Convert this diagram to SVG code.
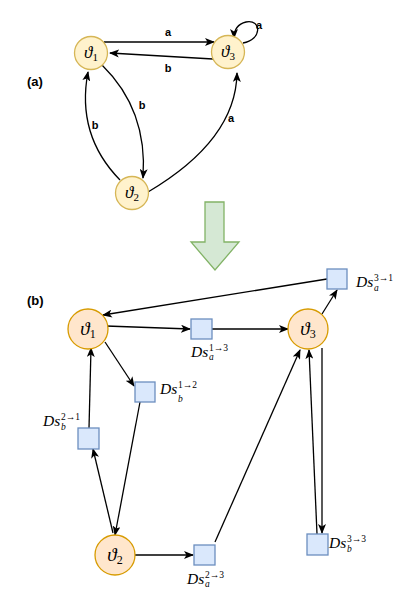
<svg xmlns="http://www.w3.org/2000/svg" width="415" height="615" viewBox="0 0 415 615">
<style>
.ya{fill:#fff2cc;stroke:#d6b656;stroke-width:1.3}
.ob{fill:#ffe6cc;stroke:#d79b00;stroke-width:1.3}
.bx{fill:#dae8fc;stroke:#6c8ebf;stroke-width:1.3}
.e{fill:none;stroke:#000;stroke-width:1.3}
.ea{fill:none;stroke:#000;stroke-width:1.3;marker-end:url(#ar)}
.lb{font-family:"Liberation Sans",Arial,sans-serif;font-weight:bold;font-size:11px;text-anchor:middle}
.pl{font-family:"Liberation Sans",Arial,sans-serif;font-weight:bold;font-size:13px}
.m{font-family:"Liberation Serif","DejaVu Serif",serif;font-style:italic}
.mu{font-family:"Liberation Serif","DejaVu Serif",serif}
.ds{font-family:"Liberation Serif","DejaVu Serif",serif;font-style:italic;font-size:15.5px}
.sp{font-family:"Liberation Serif","DejaVu Serif",serif;font-size:9.5px}
.sb{font-family:"Liberation Serif","DejaVu Serif",serif;font-style:italic;font-size:9.5px}
</style>
<defs>
<marker id="ar" markerUnits="userSpaceOnUse" markerWidth="10" markerHeight="8" refX="9" refY="4" orient="auto">
<path d="M0,0 L10,4 L0,8 L2.5,4 z" fill="#000"/>
</marker>
</defs>
<text class="pl" x="27" y="86">(a)</text>
<text class="pl" x="27" y="305">(b)</text>
<g id="connectors-a">
<path class="ea" d="M104,42 L214,42"/>
<path class="ea" d="M213,59 L110,53"/>
<path class="ea" d="M243,43 C262,40 262,19 246,22 C238,24 234,30 234,38"/>
<path class="ea" d="M102,65 Q148,110 143,178"/>
<path class="ea" d="M120,180 Q76,135 88,72"/>
<path class="ea" d="M148,192 Q236,140 237,73"/>
<text class="lb" x="168" y="36">a</text>
<text class="lb" x="168" y="72">b</text>
<text class="lb" x="142" y="109">b</text>
<text class="lb" x="95" y="129">b</text>
<text class="lb" x="231" y="122">a</text>
<text class="lb" x="259" y="29">a</text>
</g>
<g id="a-v1"><circle class="ya" cx="91" cy="53" r="16.5"/><text x="91" y="58" text-anchor="middle"><tspan class="m" font-size="17">ϑ</tspan><tspan class="mu" font-size="11" dy="3">1</tspan></text></g>
<g id="a-v3"><circle class="ya" cx="228" cy="52" r="16.5"/><text x="228" y="57" text-anchor="middle"><tspan class="m" font-size="17">ϑ</tspan><tspan class="mu" font-size="11" dy="3">3</tspan></text></g>
<g id="a-v2"><circle class="ya" cx="132" cy="193" r="16.5"/><text x="132" y="198" text-anchor="middle"><tspan class="m" font-size="17">ϑ</tspan><tspan class="mu" font-size="11" dy="3">2</tspan></text></g>
<g id="big-arrow"><polygon points="205,202 224,202 224,242 239,242 215,270 191,242 205,242" fill="#d5e8d4" stroke="#82b366" stroke-width="1.3"/></g>
<g id="connectors-b">
<path class="ea" d="M106,326 L190,329"/>
<path class="ea" d="M212,329 L288,329"/>
<path class="ea" d="M105,342 L134,386"/>
<path class="ea" d="M140,402 L115,535"/>
<path class="ea" d="M113,533 L93,449"/>
<path class="ea" d="M89,428 L91,348"/>
<path class="ea" d="M135,555 L193,555"/>
<path class="ea" d="M215,542 L300,350"/>
<path class="ea" d="M322,314 L337,290"/>
<path class="ea" d="M327,279 L103,315"/>
<path class="ea" d="M322,348 L322,533"/>
<path class="ea" d="M317,534 L309,350"/>
</g>
<g id="b-v1"><circle class="ob" cx="88" cy="329" r="20"/><text x="88" y="335" text-anchor="middle"><tspan class="m" font-size="19">ϑ</tspan><tspan class="mu" font-size="12" dy="3">1</tspan></text></g>
<g id="b-v3"><circle class="ob" cx="308" cy="329" r="20"/><text x="308" y="335" text-anchor="middle"><tspan class="m" font-size="19">ϑ</tspan><tspan class="mu" font-size="12" dy="3">3</tspan></text></g>
<g id="b-v2"><circle class="ob" cx="115" cy="555" r="20"/><text x="115" y="561" text-anchor="middle"><tspan class="m" font-size="19">ϑ</tspan><tspan class="mu" font-size="12" dy="3">2</tspan></text></g>
<g id="ds-a-13"><rect class="bx" x="191" y="319" width="21" height="20"/><text class="ds" x="191" y="357">Ds</text><text class="sp" x="209" y="351">1→3</text><text class="sb" x="209" y="360">a</text></g>
<g id="ds-b-12"><rect class="bx" x="135" y="382" width="20" height="20"/><text class="ds" x="160" y="394">Ds</text><text class="sp" x="178" y="388">1→2</text><text class="sb" x="178" y="402">b</text></g>
<g id="ds-a-31"><rect class="bx" x="327" y="269" width="20" height="20"/><text class="ds" x="356" y="287">Ds</text><text class="sp" x="374" y="281">3→1</text><text class="sb" x="374" y="291">a</text></g>
<g id="ds-b-21"><rect class="bx" x="78" y="428" width="21" height="21"/><text class="ds" x="43" y="426">Ds</text><text class="sp" x="61" y="420">2→1</text><text class="sb" x="61" y="430">b</text></g>
<g id="ds-a-23"><rect class="bx" x="194" y="545" width="21" height="20"/><text class="ds" x="187" y="584">Ds</text><text class="sp" x="205" y="578">2→3</text><text class="sb" x="205" y="587">a</text></g>
<g id="ds-b-33"><rect class="bx" x="307" y="534" width="21" height="21"/><text class="ds" x="329" y="548">Ds</text><text class="sp" x="347" y="542">3→3</text><text class="sb" x="347" y="552">b</text></g>
</svg>
